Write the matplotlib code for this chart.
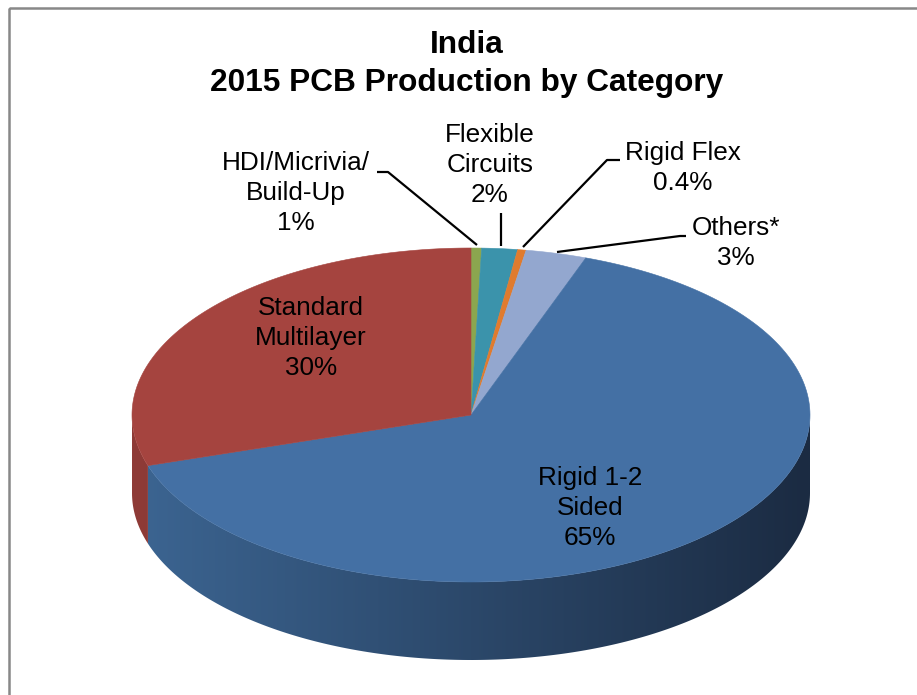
"""India 2015 PCB production by category, drawn as an Excel-style 3D pie."""
import numpy as np
import matplotlib
matplotlib.use("Agg")
import matplotlib.pyplot as plt
from matplotlib.patches import Polygon, Rectangle
from matplotlib.colors import LinearSegmentedColormap

# Slices in clockwise order starting from 12 o'clock.
categories = ["HDI/Micrivia/\nBuild-Up", "Flexible\nCircuits", "Rigid Flex",
              "Others*", "Rigid 1-2\nSided", "Standard\nMultilayer"]
shares = [0.5, 1.7, 0.4, 2.9, 64.6, 29.9]
pct_labels = ["1%", "2%", "0.4%", "3%", "65%", "30%"]

top_colors = ["#8ba64f", "#3b93ab", "#e07b2e", "#93a7cf", "#4470a4", "#a5443f"]
side_left = ["#6f853d", "#2f7589", "#b36224", "#7686a6", "#3c6592", "#8f3b37"]
side_right = ["#3a4520", "#1a3d47", "#5d3313", "#3d4556", "#1b2b42", "#4a1f1c"]

# label centre (x, y of first line), leader line points or None
label_pos = [(296, 163), (490, 135), (683, 153), (736, 228), (590, 478),
             (311, 308)]
leaders = [[(377, 172), (388, 172), (477, 245)],
           [(501, 213), (501, 246)],
           [(620, 160), (607, 160), (523, 247)],
           [(686, 236), (680, 236), (557, 252)],
           None, None]

title = "India\n2015 PCB Production by Category"

cx, cy, a, b, depth = 471, 415, 339, 167, 78

plt.rcParams["font.family"] = ["Liberation Sans", "DejaVu Sans"]
fig = plt.figure(figsize=(9.17, 6.95), dpi=100)
ax = fig.add_axes([0, 0, 1, 1])
ax.set_xlim(0, 917)
ax.set_ylim(695, 0)
ax.axis("off")

# chart frame (runs off the right and bottom of the picture)
ax.add_patch(Rectangle((8.5, 7.5), 930, 720, fill=False, ec="#888888",
                       lw=1.8, zorder=0))


def rim(theta, dy=0.0):
    t = np.radians(theta)
    return cx + a * np.sin(t), cy - b * np.cos(t) + dy


bounds = np.concatenate([[0], np.cumsum(shares) / sum(shares) * 360])
grad = np.linspace(0, 1, 256).reshape(1, -1)

# side walls, front half only, shaded left to right
for i in range(len(shares)):
    lo, hi = max(bounds[i], 90), min(bounds[i + 1], 270)
    if lo >= hi:
        continue
    th = np.linspace(lo, hi, 200)
    xs, ys = rim(th)
    pts = list(zip(xs, ys)) + list(zip(xs[::-1], ys[::-1] + depth))
    wall = Polygon(pts, closed=True, fc="none", ec="none")
    ax.add_patch(wall)
    cmap = LinearSegmentedColormap.from_list(
        f"side{i}", [side_left[i], side_right[i]])
    im = ax.imshow(grad, cmap=cmap, aspect="auto", zorder=1,
                   extent=(cx - a, cx + a, cy + b + depth + 2, cy - 2),
                   interpolation="bilinear")
    im.set_clip_path(wall)

ax.set_xlim(0, 917)
ax.set_ylim(695, 0)

# top faces
for i in range(len(shares)):
    th = np.linspace(bounds[i], bounds[i + 1], 200)
    xs, ys = rim(th)
    pts = [(cx, cy)] + list(zip(xs, ys))
    ax.add_patch(Polygon(pts, closed=True, fc=top_colors[i],
                         ec=top_colors[i], lw=0.4, zorder=2))

# labels and leader lines
for i in range(len(shares)):
    lines = categories[i].split("\n") + [pct_labels[i]]
    x, y = label_pos[i]
    for k, line in enumerate(lines):
        ax.text(x, y + k * 30, line, fontsize=18.8, ha="center", va="center",
                color="black", zorder=4)
    if leaders[i]:
        lx, ly = zip(*leaders[i])
        ax.plot(lx, ly, color="black", lw=1.6, zorder=3,
                solid_capstyle="butt")

for k, line in enumerate(title.split("\n")):
    ax.text(467, 45 + k * 38, line, fontsize=22.8, fontweight="bold",
            ha="center", va="center", color="black")

fig.savefig("out.png", dpi=100)
